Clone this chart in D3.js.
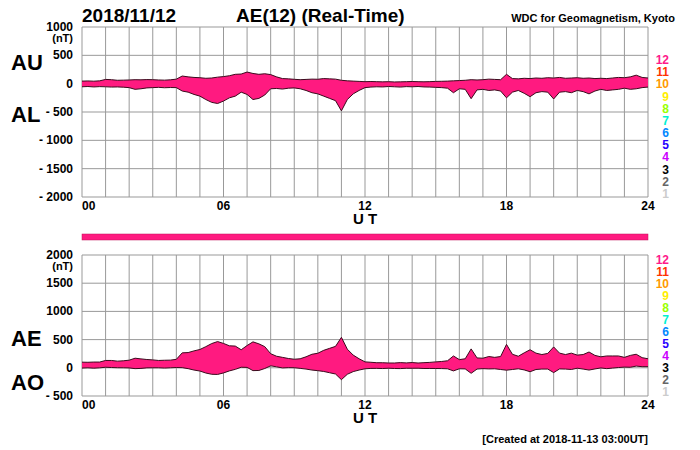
<!doctype html>
<meta charset="utf-8">
<title>AE(12) Real-Time</title>
<script src="https://cdn.jsdelivr.net/npm/d3@7"></script>
<style>
  body { margin: 0; background: #fff; }
  text { font-family: "Liberation Sans", Arial, sans-serif; font-weight: bold; }
</style>
<svg id="chart" width="700" height="450"></svg>
<script>
// hours 0..24 in 15-minute steps (nT)
var hours = d3.range(0, 24.01, 0.25);
var au = [45,48,44,50, 75,70,60,62, 65,70,68,72, 70,65,62,68, 80,135,120,110,
  105,95,100,115, 125,140,165,170, 205,180,165,175, 160,120,90,85, 77,70,75,80,
  78,90,85,80, 60,50,45,40, 35,38,35,32, 35,30,32,35, 38,35,33,36, 40,42,45,50,
  55,60,70,65, 70,80,75,70, 165,90,85,95, 90,100,95,105, 100,110,95,100,
  105,95,100,90, 95,90,100,110, 105,120,150,110, 100];
var al = [-55,-50,-58,-52, -55,-60,-58,-62, -70,-100,-90,-75, -70,-65,-72,-68,
  -70,-130,-150,-190, -220,-280,-330,-350, -307,-250,-220,-150, -190,-280,-260,-200,
  -90,-85,-95,-80, -75,-90,-120,-160, -180,-220,-260,-300, -480,-280,-180,-120,
  -70,-60,-55,-58, -50,-55,-60,-52, -55,-50,-58,-60, -65,-70,-80,-160,
  -90,-100,-265,-110, -100,-120,-110,-130, -250,-150,-120,-170, -230,-160,-140,-150,
  -270,-150,-140,-160, -120,-140,-180,-130, -100,-120,-110,-100, -80,-100,-90,-70, -60];
var xTicks = [0, 6, 12, 18, 24];
var topTicks = [1000, 500, 0, -500, -1000, -1500, -2000];
var botTicks = [2000, 1500, 1000, 500, 0, -500];
var stationLabels = ["12","11","10","9","8","7","6","5","4","3","2","1"];
var stationColors = ["#ff1a8c","#ff3300","#ff9900","#ffee00","#99ff00","#00f0d0",
  "#0088ff","#2a00ff","#cc00ff","#000000","#666666","#cccccc"];

var svg = d3.select("#chart");
var x = d3.scaleLinear().domain([0, 24]).range([82, 648]);

function panel(top, bottom, domain, ticks, upper, lower, lab1, lab2, ly1, ly2, legTop, legBot) {
  var y = d3.scaleLinear().domain(domain).range([bottom, top]);
  var g = svg.append("g");
  // grid
  g.selectAll(".hg").data(d3.range(domain[0], domain[1] + 1, 500)).enter().append("line")
    .attr("x1", x(0)).attr("x2", x(24)).attr("y1", d => y(d)).attr("y2", d => y(d))
    .attr("stroke", "#999").attr("stroke-width", 1);
  g.selectAll(".vg").data(d3.range(0, 25)).enter().append("line")
    .attr("x1", d => x(d)).attr("x2", d => x(d)).attr("y1", top).attr("y2", bottom)
    .attr("stroke", "#999").attr("stroke-width", 1);
  var idx = d3.range(hours.length);
  var area = d3.area().x(i => x(hours[i])).y0(i => y(lower[i])).y1(i => y(upper[i]));
  g.append("path").datum(idx).attr("d", area).attr("fill", "#ff1a80");
  [upper, lower].forEach(function (s) {
    g.append("path").datum(idx)
      .attr("d", d3.line().x(i => x(hours[i])).y(i => y(s[i])))
      .attr("fill", "none").attr("stroke", "#3a0a1c").attr("stroke-width", 1);
  });
  // y tick labels
  g.selectAll(".yl").data(ticks).enter().append("text")
    .attr("x", 73).attr("y", d => y(d) + 4).attr("text-anchor", "end")
    .attr("font-size", 12).text(d => d < 0 ? "- " + (-d) : d);
  g.append("text").attr("x", 73).attr("y", top + 15).attr("text-anchor", "end")
    .attr("font-size", 11).text("(nT)");
  // x tick labels
  g.selectAll(".xl").data(xTicks).enter().append("text")
    .attr("x", d => x(d)).attr("y", bottom + 13)
    .attr("text-anchor", d => d === 0 ? "start" : "middle")
    .attr("font-size", 12).text(d => d3.format("02d")(d));
  g.append("text").attr("x", 365).attr("y", bottom + 27).attr("text-anchor", "middle")
    .attr("font-size", 15).text("U T");
  g.append("text").attr("x", 11).attr("y", ly1).attr("font-size", 22).text(lab1);
  g.append("text").attr("x", 11).attr("y", ly2).attr("font-size", 22).text(lab2);
  // station count legend
  var step = (legBot - legTop) / (stationLabels.length - 1);
  g.selectAll(".st").data(stationLabels).enter().append("text")
    .attr("x", 669).attr("y", (d, i) => legTop + i * step).attr("text-anchor", "end")
    .attr("font-size", 12).attr("fill", (d, i) => stationColors[i]).text(d => d);
}

panel(27, 197, [-2000, 1000], topTicks, au, al, "AU", "AL", 70, 122, 64, 198);

var ae = au.map((v, i) => v - al[i]);
var ao = au.map((v, i) => (v + al[i]) / 2);
panel(255, 396, [-500, 2000], botTicks, ae, ao, "AE", "AO", 346, 390, 264, 396);

// station count bar
svg.append("rect").attr("x", x(0)).attr("y", 234).attr("width", x(24) - x(0)).attr("height", 6)
  .attr("fill", "#ff1a80").attr("stroke", "#c0105a").attr("stroke-width", 0.5);

svg.append("text").attr("x", 82).attr("y", 22).attr("font-size", 19).text("2018/11/12");
svg.append("text").attr("x", 236).attr("y", 22).attr("font-size", 19).text("AE(12) (Real-Time)");
svg.append("text").attr("x", 675).attr("y", 22).attr("text-anchor", "end")
  .attr("font-size", 11).attr("font-weight", "normal").text("WDC for Geomagnetism, Kyoto");
svg.append("text").attr("x", 648).attr("y", 443).attr("text-anchor", "end")
  .attr("font-size", 11).attr("font-weight", "normal").text("[Created at 2018-11-13 03:00UT]");
</script>
